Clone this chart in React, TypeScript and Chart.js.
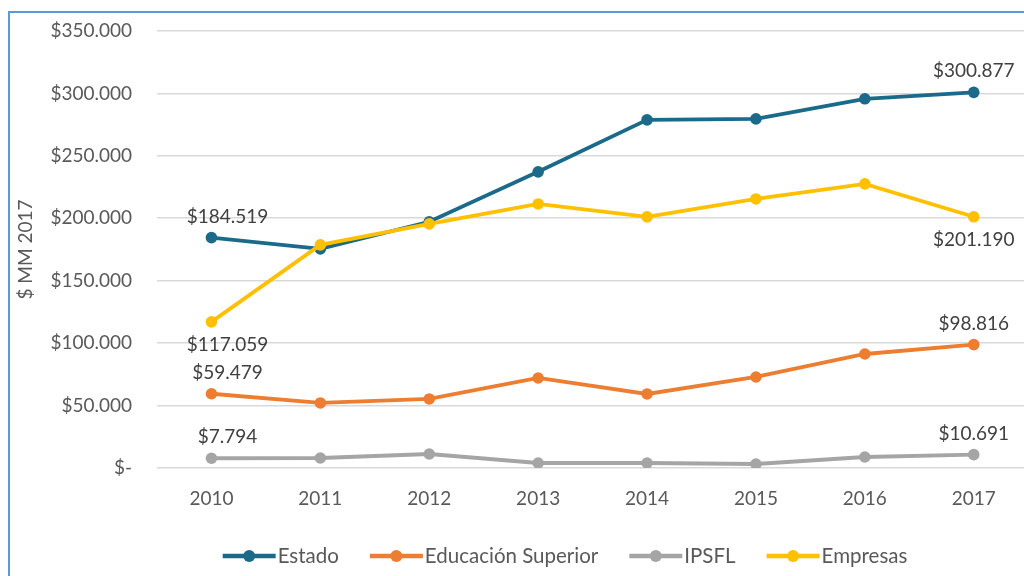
import React, { useEffect, useRef } from "react";
import { Chart, registerables } from "chart.js";

Chart.register(...registerables);

const years = ["2010", "2011", "2012", "2013", "2014", "2015", "2016", "2017"];
const estado = [184519, 175500, 197200, 237200, 278800, 279600, 295700, 300877];
const educacionSuperior = [59479, 52100, 55300, 72100, 59300, 72900, 91300, 98816];
const ipsfl = [7794, 8000, 11200, 4000, 4000, 3200, 8800, 10691];
const empresas = [117059, 178700, 195500, 211500, 201100, 215500, 227600, 201190];

const seriesNames = ["Estado", "Educación Superior", "IPSFL", "Empresas"];
const seriesColors = ["#1B6A8A", "#ED7D31", "#A5A5A5", "#FFC000"];
// which points carry a value label, and whether the label sits above (-1) or below (+1)
const labelIndices = [0, 7];
const labelSide = [-1, -1, -1, 1];

const yMin = 0;
const yMax = 350000;
const yStep = 50000;

const FONT = "Lato, 'Open Sans', sans-serif";

function fmt(n: number): string {
  return Math.round(n).toString().replace(/\B(?=(\d{3})+(?!\d))/g, ".");
}

const valueLabelPlugin = {
  id: "valueLabels",
  afterDatasetsDraw(chart: any) {
    const ctx = chart.ctx;
    ctx.save();
    ctx.font = `19px ${FONT}`;
    ctx.fillStyle = "#404040";
    ctx.textAlign = "center";
    ctx.textBaseline = "middle";
    chart.data.datasets.forEach((ds: any, di: number) => {
      const meta = chart.getDatasetMeta(di);
      labelIndices.forEach((idx) => {
        const pt = meta.data[idx];
        if (!pt) return;
        const dx = idx === 0 ? 16 : 0;
        const dy = labelSide[di] < 0 ? -21 : 23;
        ctx.fillText("$" + fmt(ds.data[idx]), pt.x + dx, pt.y + dy);
      });
    });
    ctx.restore();
  },
};

const legendPlugin = {
  id: "customLegend",
  afterDraw(chart: any) {
    const ctx = chart.ctx;
    ctx.save();
    ctx.font = `20.5px ${FONT}`;
    const markerW = 53;
    const textGap = 2;
    const itemGap = 31;
    const widths = seriesNames.map((n) => ctx.measureText(n).width);
    const total =
      widths.reduce((a, w) => a + markerW + textGap + w, 0) + itemGap * (seriesNames.length - 1);
    const centerX = 565;
    const y = 556;
    let x = centerX - total / 2;
    seriesNames.forEach((name, i) => {
      const c = seriesColors[i];
      ctx.strokeStyle = c;
      ctx.lineWidth = 4.5;
      ctx.beginPath();
      ctx.moveTo(x, y);
      ctx.lineTo(x + markerW, y);
      ctx.stroke();
      ctx.fillStyle = c;
      ctx.beginPath();
      ctx.arc(x + markerW / 2, y, 6, 0, Math.PI * 2);
      ctx.fill();
      ctx.fillStyle = "#595959";
      ctx.textAlign = "left";
      ctx.textBaseline = "middle";
      ctx.fillText(name, x + markerW + textGap, y);
      x += markerW + textGap + widths[i] + itemGap;
    });
    ctx.restore();
  },
};

export default function App() {
  const canvasRef = useRef<HTMLCanvasElement | null>(null);

  useEffect(() => {
    const canvas = canvasRef.current;
    if (!canvas) return;
    const allSeries = [estado, educacionSuperior, ipsfl, empresas];
    const chart = new Chart(canvas, {
      type: "line",
      data: {
        labels: years,
        datasets: allSeries.map((d, i) => ({
          label: seriesNames[i],
          data: d,
          borderColor: seriesColors[i],
          backgroundColor: seriesColors[i],
          pointBackgroundColor: seriesColors[i],
          pointBorderColor: seriesColors[i],
          pointBorderWidth: 0,
          pointRadius: 5.8,
          borderWidth: 3.8,
          tension: 0,
          fill: false,
          order: allSeries.length - i,
        })),
      },
      options: {
        responsive: false,
        animation: false,
        devicePixelRatio: 1,
        layout: { padding: { left: 10, top: 31, right: 2, bottom: 0 } },
        plugins: {
          legend: { display: false },
          tooltip: { enabled: false },
        },
        scales: {
          x: {
            offset: true,
            grid: { display: false },
            border: { display: false },
            ticks: {
              color: "#595959",
              font: { family: FONT, size: 19 },
              padding: 11,
              maxRotation: 0,
            },
            afterFit: (scale: any) => {
              scale.height = 108;
            },
          },
          y: {
            min: yMin,
            max: yMax,
            grid: {
              color: "#D9D9D9",
              lineWidth: 1.6,
              drawTicks: true,
              tickLength: 6,
              tickColor: "rgba(0,0,0,0)",
            },
            border: { display: false },
            ticks: {
              stepSize: yStep,
              color: "#595959",
              font: { family: FONT, size: 19 },
              padding: 19,
              callback: (v: any) => (Number(v) === 0 ? "$-" : "$" + fmt(Number(v))),
            },
            title: {
              display: true,
              text: "$ MM 2017",
              color: "#595959",
              font: { family: FONT, size: 19 },
              padding: { top: 4, bottom: 0 },
            },
            afterFit: (scale: any) => {
              scale.width = 147;
            },
          },
        },
      },
      plugins: [valueLabelPlugin, legendPlugin],
    });
    return () => chart.destroy();
  }, []);

  return (
    <div
      style={{
        position: "fixed",
        left: 0,
        top: 0,
        width: 1024,
        height: 576,
        overflow: "hidden",
        background: "#ffffff",
      }}
    >
      <canvas
        ref={canvasRef}
        width={1034}
        height={576}
        style={{ position: "absolute", left: 0, top: 0, width: 1034, height: 576 }}
      />
      <div
        style={{
          position: "absolute",
          left: 8,
          top: 11,
          width: 1016,
          height: 565,
          borderTop: "2px solid #5B9BD5",
          borderLeft: "2px solid #5B9BD5",
          boxSizing: "border-box",
          pointerEvents: "none",
        }}
      />
    </div>
  );
}
